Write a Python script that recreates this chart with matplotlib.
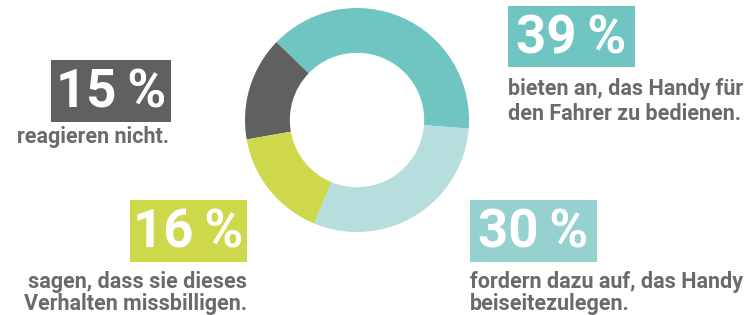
import matplotlib
matplotlib.use("Agg")
import matplotlib.pyplot as plt
from matplotlib.patches import Rectangle

# data
shares = [39, 15, 16, 30]
slice_colors = ["#70C5C2", "#606060", "#CED84B", "#B5DEDC"]
box_colors = ["#70C5C2", "#606060", "#CED84B", "#94D1CF"]
big_labels = ["39\u2009%", "15\u2009%", "16\u2009%", "30\u2009%"]
captions = [
    ["bieten an, das Handy für", "den Fahrer zu bedienen."],
    ["reagieren nicht."],
    ["sagen, dass sie dieses", "Verhalten missbilligen."],
    ["fordern dazu auf, das Handy", "beiseitezulegen."],
]

W, H = 746, 315
plt.rcParams["font.family"] = ["Roboto", "DejaVu Sans"]
TEXT_GRAY = "#6A6A6A"

fig = plt.figure(figsize=(W / 100, H / 100), dpi=100)

# donut
cx, cy, r = 357, 120, 112
ax = fig.add_axes([(cx - r) / W, (H - cy - r) / H, 2 * r / W, 2 * r / H])
ax.pie(shares, colors=slice_colors, startangle=-4.4, counterclock=True,
       radius=1.0, wedgeprops=dict(width=0.4, linewidth=0))
ax.set_xlim(-1, 1)
ax.set_ylim(-1, 1)
ax.set_aspect("equal")
ax.axis("off")

# overlay in pixel coords
ov = fig.add_axes([0, 0, 1, 1])
ov.set_xlim(0, W)
ov.set_ylim(H, 0)
ov.axis("off")

# box x0, y0, w, h, caption anchor x, first baseline, line pitch, alignment
layout = [
    (508, 6, 127, 61, 508, 95, 25, "left"),
    (51, 60, 120, 62, 169, 143, 25, "right"),
    (130, 200, 117, 62, 247, 288, 22, "right"),
    (470, 200, 127, 62, 470, 288, 22, "left"),
]

for lab, cap, bc, (x0, y0, w, h, tx, base, pitch, ha) in zip(big_labels, captions, box_colors, layout):
    ov.add_patch(Rectangle((x0, y0), w, h, facecolor=bc, edgecolor="none"))
    ov.text(x0 + w / 2, y0 + h / 2 + 2, lab, color="white", fontsize=38,
            fontweight="bold", ha="center", va="center")
    for i, line in enumerate(cap):
        ov.text(tx, base + i * pitch, line, color=TEXT_GRAY, fontsize=15.5,
                fontweight="bold", ha=ha, va="baseline")

fig.savefig("out.png", dpi=100)
